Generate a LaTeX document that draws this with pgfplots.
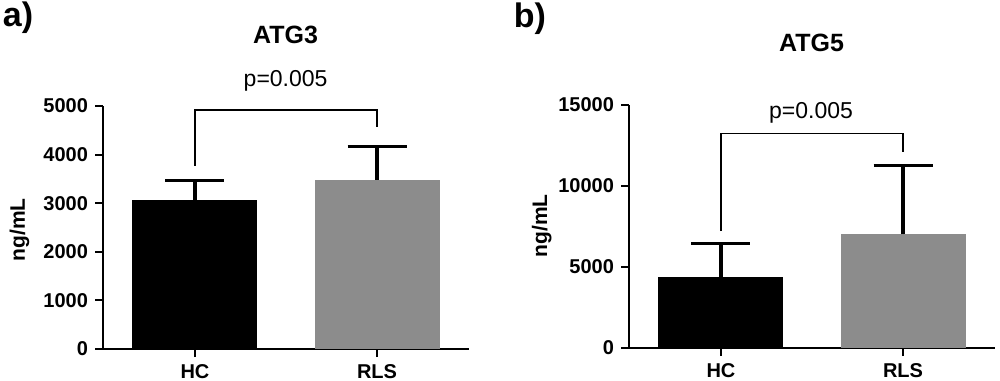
\documentclass[border=0pt]{standalone}
\usepackage{fontspec}
\setmainfont{Liberation Sans}
\usepackage{pgfplots}
\pgfplotsset{compat=1.18}
\definecolor{barGray}{HTML}{8C8C8C}
\pgfplotsset{
  panel/.style={
    scale only axis, width=183pt, height=121.5pt,
    axis lines*=left,
    axis line style={line width=1pt},
    xmin=-0.505, xmax=1.505, ymin=0,
    xtick={0,1}, xticklabels={HC,RLS},
    tick align=outside, major tick length=4pt,
    every tick/.style={black, line width=1pt},
    tick label style={font=\bfseries\fontsize{10}{12}\selectfont},
    /pgf/number format/assume math mode=true,
    /pgf/number format/1000 sep={},
    scaled y ticks=false,
    clip=false,
  },
  errbar/.style={error bars/.cd, y dir=plus, y explicit,
    error bar style={line width=1.6pt,black},
    error mark options={rotate=90, line width=1.6pt, mark size=14.75pt, black}},
}
\begin{document}
\begin{tikzpicture}
\useasboundingbox (0,0) rectangle (500pt,190pt);
% ---------- panel a ----------
\begin{axis}[panel, at={(51.5pt,15.5pt)}, anchor=south west,
  ymax=5000, ytick={0,1000,2000,3000,4000,5000}]
\addplot[ybar, bar width=62.5pt, bar shift=0pt, fill=black, draw=none, errbar]
  coordinates {(0,3070) +- (0,400)};
\addplot[ybar, bar width=62.5pt, bar shift=0pt, fill=barGray, draw=none, errbar]
  coordinates {(1,3480) +- (0,690)};
\addplot[black, line width=0.65pt, mark=none] coordinates {(0,3770) (0,4920) (1,4920) (1,4560)};
\end{axis}
% ---------- panel b ----------
\begin{axis}[panel, at={(314.5pt,16pt)}, anchor=south west,
  ymax=15000, ytick={0,5000,10000,15000}]
\addplot[ybar, bar width=62.5pt, bar shift=0pt, fill=black, draw=none, errbar]
  coordinates {(0,4360) +- (0,2100)};
\addplot[ybar, bar width=62.5pt, bar shift=0pt, fill=barGray, draw=none, errbar]
  coordinates {(1,7020) +- (0,4230)};
\addplot[black, line width=0.65pt, mark=none] coordinates {(0,7220) (0,13250) (1,13250) (1,12080)};
\end{axis}
% ---------- texts ----------
\node[anchor=base, font=\bfseries\fontsize{17}{19}\selectfont] at (9pt,176.5pt) {a)};
\node[anchor=base, font=\bfseries\fontsize{17}{19}\selectfont] at (265pt,176pt) {b)};
\node[anchor=base, font=\bfseries\fontsize{12.5}{14}\selectfont] at (142.8pt,168.3pt) {ATG3};
\node[anchor=base, font=\bfseries\fontsize{12.5}{14}\selectfont] at (405.8pt,164.2pt) {ATG5};
\node[anchor=base, font=\fontsize{11.5}{13}\selectfont] at (142.8pt,146.7pt) {p=0.005};
\node[anchor=base, font=\fontsize{11.5}{13}\selectfont] at (405.5pt,130.8pt) {p=0.005};
\node[anchor=base, rotate=90, font=\bfseries\fontsize{10.5}{12}\selectfont] at (12.5pt,75pt) {ng/mL};
\node[anchor=base, rotate=90, font=\bfseries\fontsize{10.5}{12}\selectfont] at (273.5pt,77pt) {ng/mL};
\end{tikzpicture}
\end{document}
